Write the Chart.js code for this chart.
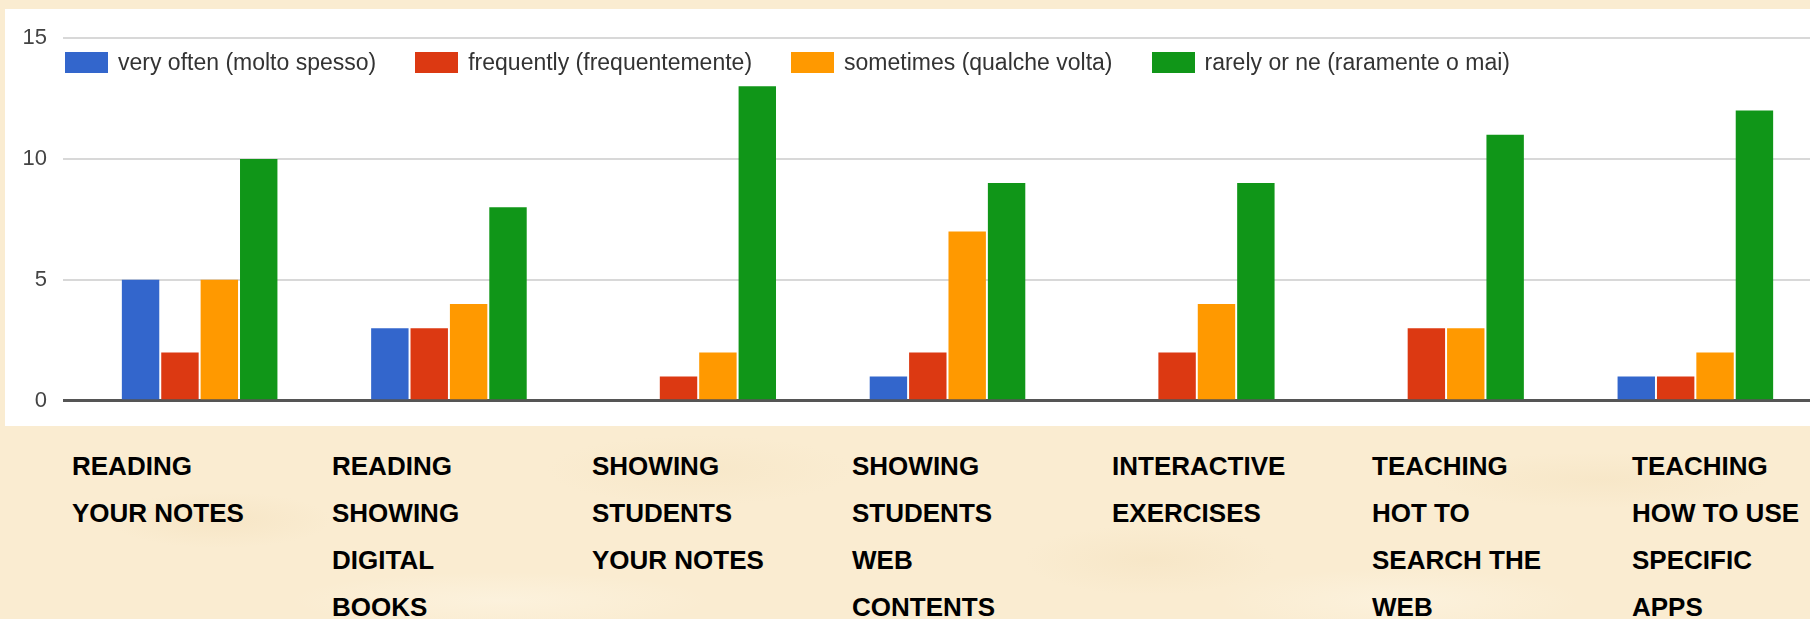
<!DOCTYPE html>
<html>
<head>
<meta charset="utf-8">
<title>Uso della LIM</title>
<script src="https://cdn.jsdelivr.net/npm/chart.js@4"></script>
<style>
  html,body{margin:0;padding:0;}
  body{
    width:1810px;height:619px;overflow:hidden;position:relative;
    font-family:"Liberation Sans",Arial,sans-serif;
    background-color:#faecd1;
    background-image:
      radial-gradient(ellipse 160px 40px at 220px 520px, rgba(240,218,178,.35), transparent 70%),
      radial-gradient(ellipse 220px 50px at 700px 470px, rgba(242,222,184,.30), transparent 70%),
      radial-gradient(ellipse 180px 50px at 1150px 560px, rgba(240,218,178,.30), transparent 70%),
      radial-gradient(ellipse 240px 40px at 1600px 480px, rgba(242,222,184,.35), transparent 70%),
      radial-gradient(ellipse 300px 40px at 500px 600px, rgba(253,245,228,.6), transparent 70%),
      radial-gradient(ellipse 260px 45px at 1400px 600px, rgba(253,245,228,.6), transparent 70%);
  }
  #panel{position:absolute;left:5px;top:9px;width:1830px;height:417px;background:#fff;}
  #wrap{position:absolute;left:0;top:0;width:1820px;height:430px;}
  #legend{position:absolute;left:65px;top:52px;display:flex;align-items:center;font-size:23px;color:#333;white-space:nowrap;}
  #legend .item{display:flex;align-items:center;margin-right:39px;height:21px;}
  #legend .box{width:43px;height:21px;margin-right:10px;}
  #cats{position:absolute;left:72px;top:443px;display:flex;}
  #cats .cat{width:260px;font-weight:bold;font-size:26px;line-height:47px;color:#000;white-space:nowrap;}
</style>
</head>
<body>
<div id="panel"></div>
<div id="wrap"><canvas id="chart"></canvas></div>
<div id="legend"></div>
<div id="cats"></div>
<script>
// categorie (righe dell'etichetta) e serie
const categories = [
  ['READING', 'YOUR NOTES'],
  ['READING', 'SHOWING', 'DIGITAL', 'BOOKS'],
  ['SHOWING', 'STUDENTS', 'YOUR NOTES'],
  ['SHOWING', 'STUDENTS', 'WEB', 'CONTENTS'],
  ['INTERACTIVE', 'EXERCISES'],
  ['TEACHING', 'HOT TO', 'SEARCH THE', 'WEB'],
  ['TEACHING', 'HOW TO USE', 'SPECIFIC', 'APPS']
];
const seriesNames = ['very often (molto spesso)', 'frequently (frequentemente)', 'sometimes (qualche volta)', 'rarely or ne (raramente o mai)'];
const seriesColors = ['#3366cc', '#dc3912', '#ff9900', '#109618'];
const veryOften  = [5, 3, 0, 1, 0, 0, 1];
const frequently = [2, 3, 1, 2, 2, 3, 1];
const sometimes  = [5, 4, 2, 7, 4, 3, 2];
const rarely     = [10, 8, 13, 9, 9, 11, 12];
const yTicks = [0, 5, 10, 15];

const seriesValues = [veryOften, frequently, sometimes, rarely];

// legenda html sopra l'area del grafico
document.getElementById('legend').innerHTML = seriesNames.map((n, i) =>
  `<div class="item"><div class="box" style="background:${seriesColors[i]}"></div><span>${n}</span></div>`).join('');

// etichette delle categorie sotto il grafico
document.getElementById('cats').innerHTML = categories.map(lines =>
  `<div class="cat">${lines.join('<br>')}</div>`).join('');

Chart.defaults.font.family = '"Liberation Sans", Arial, sans-serif';

new Chart(document.getElementById('chart'), {
  type: 'bar',
  data: {
    labels: categories.map(l => l.join(' ')),
    datasets: seriesValues.map((vals, i) => ({
      label: seriesNames[i],
      data: vals,
      backgroundColor: seriesColors[i],
      borderWidth: 0,
      categoryPercentage: 0.632,
      barPercentage: 0.95
    }))
  },
  options: {
    responsive: true,
    maintainAspectRatio: false,
    animation: false,
    layout: { padding: { top: 38, bottom: 16, left: 0, right: 0 } },
    plugins: { legend: { display: false }, tooltip: { enabled: false } },
    scales: {
      x: { display: false },
      y: {
        min: 0, max: 15,
        afterFit: s => { s.width = 75; },
        afterBuildTicks: s => { s.ticks = yTicks.map(v => ({ value: v })); },
        border: { display: false },
        grid: {
          color: c => (c.tick && c.tick.value === 0) ? '#555' : '#d8d8d8',
          lineWidth: c => (c.tick && c.tick.value === 0) ? 3 : 2,
          drawTicks: true,
          tickLength: 12
        },
        ticks: { padding: 16, color: '#444', font: { size: 22 } }
      }
    }
  }
});
</script>
</body>
</html>
